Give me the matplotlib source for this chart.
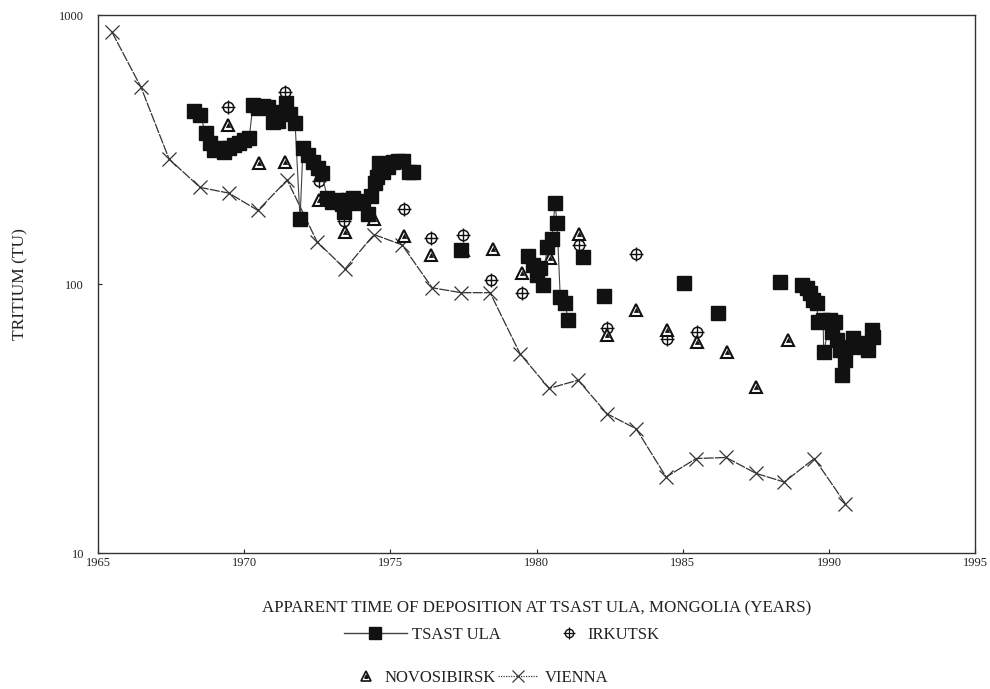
import numpy as np
import matplotlib
matplotlib.use("Agg")
import matplotlib.pyplot as plt
from matplotlib.lines import Line2D

plt.rcParams['font.family'] = ['Liberation Serif', 'DejaVu Serif']

# Tsast Ula record (NaN breaks the connecting line between sample groups)
tsast_year = [1968.28, 1968.49, 1968.69, 1968.83, 1968.97, 1969.14, 1969.31, 1969.48, 1969.65,
              1969.82, 1969.99, 1970.17, 1970.30, 1970.47, 1970.64, 1970.82, 1970.99, 1971.16,
              1971.33, 1971.43, 1971.57, 1971.74, 1971.91, 1972.01, 1972.18, 1972.36, 1972.53,
              1972.66, 1972.84, 1973.01, 1973.18, 1973.35, 1973.42, 1973.55, 1973.72, 1973.89,
              1974.07, 1974.24, 1974.34, 1974.48, 1974.55, 1974.60, 1974.75, 1974.92, 1975.09,
              1975.26, 1975.43, 1975.64, 1975.78, np.nan,
              1977.40, np.nan,
              1979.71, 1979.88, 1980.02, 1980.12, 1980.22, 1980.36, 1980.53, 1980.63, 1980.70,
              1980.81, 1980.98, 1981.08, np.nan,
              1981.59, np.nan, 1982.31, np.nan, 1985.05, np.nan, 1986.21, np.nan, 1988.33, np.nan,
              1989.08, 1989.26, 1989.36, 1989.46, 1989.58, 1989.63, 1989.80, 1989.82, 1990.04,
              1990.11, 1990.21, 1990.28, 1990.38, 1990.45, 1990.56, 1990.66, 1990.83, 1991.00,
              1991.17, 1991.34, 1991.48, 1991.51]
tsast_tu = [440, 425, 364, 334, 315, 320, 310, 320, 329,
            334, 343, 350, 463, 451, 458, 455, 400, 404,
            436, 471, 428, 397, 174.5, 320, 302, 284, 270,
            259, 209, 202, 205, 198, 185, 205, 210, 200,
            204, 182, 212, 237, 250, 282, 261, 272, 284,
            287, 287, 261, 261, np.nan,
            134, np.nan,
            127, 118, 108, 115, 99, 138, 147, 200, 169,
            89.5, 85, 73.5, np.nan,
            126, np.nan, 90.2, np.nan, 101, np.nan, 78, np.nan, 102, np.nan,
            99, 96.7, 92.6, 87.2, 85, 72.2, 73.5, 55.9, 73.5,
            66.4, 72.2, 61.9, 56.8, 45.9, 52.2, 58.3, 63, 60.4,
            58.3, 56.8, 67.5, 63.4]

irkutsk_year = [1969.45, 1971.40, 1972.55, 1973.40, 1974.60, 1975.45, 1976.40, 1977.50,
                1978.45, 1979.50, 1981.45, 1982.40, 1983.40, 1984.45, 1985.50]
irkutsk_tu = [455, 517, 242, 172, 252, 191, 148, 152, 103.5, 92.6, 140, 69, 129, 62.5, 66.4]

novo_year = [1969.45, 1970.50, 1971.40, 1972.55, 1973.45, 1974.45, 1975.45, 1976.40, 1977.50,
             1978.50, 1979.50, 1980.45, 1981.45, 1982.40, 1983.40, 1984.45, 1985.50, 1986.50,
             1987.50, 1988.60]
novo_tu = [390, 282, 284, 205, 156, 175, 151, 128, 134, 135, 110, 125, 154, 64.6, 80, 67.5,
           60.8, 55.9, 41.4, 61.9]

vienna_year = [1965.48, 1966.47, 1967.43, 1968.49, 1969.48, 1970.47, 1971.47, 1972.49, 1973.45,
               1974.44, 1975.40, 1976.43, 1977.42, 1978.41, 1979.44, 1980.43, 1981.42, 1982.41,
               1983.41, 1984.43, 1985.46, 1986.48, 1987.51, 1988.47, 1989.50, 1990.56]
vienna_tu = [864, 540, 292, 229, 218, 188, 244, 144, 114, 153, 140, 97, 93, 93, 55, 41, 44,
             33, 29, 19.2, 22.5, 22.7, 19.8, 18.4, 22.5, 15.3]

x_ticks = [1965, 1970, 1975, 1980, 1985, 1990, 1995]
y_ticks = [10, 100, 1000]

ink = '#111111'
fig = plt.figure(figsize=(9.9, 6.89), dpi=100)
ax = fig.add_axes([0.099, 0.197, 0.886, 0.781])

# Vienna
ax.plot(vienna_year, vienna_tu, color='#333333', lw=0.9, ls=(0, (8, 1)),
        marker='x', ms=10, mew=0.9, mec='#333333', zorder=2)

# Tsast Ula
ax.plot(tsast_year, tsast_tu, color='#444444', lw=0.8, marker='s', ms=9.5,
        mfc=ink, mec=ink, zorder=4)

# Irkutsk: circle with cross
ax.plot(irkutsk_year, irkutsk_tu, ls='none', marker='o', ms=7.5, mfc='white',
        mec=ink, mew=1.1, zorder=3)
ax.plot(irkutsk_year, irkutsk_tu, ls='none', marker='+', ms=10.5, mec=ink,
        mew=1.0, zorder=3)

# Novosibirsk: open triangle with a dot
ax.plot(novo_year, novo_tu, ls='none', marker='^', ms=9, mfc='white',
        mec=ink, mew=1.5, zorder=3)
ax.plot(novo_year, novo_tu, ls='none', marker='^', ms=3, mfc=ink,
        mec=ink, mew=0.5, zorder=3)

ax.set_yscale('log')
ax.set_xlim(1965, 1995)
ax.set_ylim(10, 1000)
ax.set_xticks(x_ticks)
ax.set_xticklabels([str(t) for t in x_ticks])
ax.set_yticks(y_ticks)
ax.set_yticklabels([str(t) for t in y_ticks])
ax.yaxis.set_minor_locator(matplotlib.ticker.NullLocator())
ax.tick_params(direction='in', length=3, width=0.8, labelsize=9,
               colors='#222222')
ax.tick_params(axis='y', pad=10)
ax.tick_params(axis='x', pad=3)
for s in ax.spines.values():
    s.set_color('#333333')
    s.set_linewidth(1.0)

ax.set_xlabel('APPARENT TIME OF DEPOSITION AT TSAST ULA, MONGOLIA (YEARS)',
              fontsize=12.2, color='#222222', labelpad=22)
ax.set_ylabel('TRITIUM (TU)', fontsize=12.5, color='#222222', labelpad=22)

# legend entries placed one by one
h_tsast = Line2D([], [], color='#444444', lw=1.0, marker='s', ms=8, mfc=ink, mec=ink)
h_irk = (Line2D([], [], ls='none', marker='o', ms=6, mfc='white', mec=ink, mew=1.0),
         Line2D([], [], ls='none', marker='+', ms=8.5, mec=ink, mew=0.9))
h_novo = (Line2D([], [], ls='none', marker='^', ms=7, mfc='white', mec=ink, mew=1.2),
          Line2D([], [], ls='none', marker='^', ms=2.5, mfc=ink, mec=ink))
h_vienna = Line2D([], [], color='#3a3a3a', lw=0.9, ls=(0, (1, 1)), marker='x',
                  ms=8, mew=0.9)

entries = [(h_tsast, 'TSAST ULA', 0.347, 0.067, 3.8, 0.3),
           (h_irk, 'IRKUTSK', 0.565, 0.067, 1.2, 0.5),
           (h_novo, 'NOVOSIBIRSK', 0.360, 0.004, 1.2, 0.5),
           (h_vienna, 'VIENNA', 0.503, 0.004, 2.4, 0.4)]
for h, lab, lx, ly, hl, tp in entries:
    fig.legend([h], [lab], loc='lower left', bbox_to_anchor=(lx, ly),
               frameon=False, fontsize=12, handlelength=hl, handletextpad=tp,
               borderaxespad=0, borderpad=0, labelcolor='#222222')

fig.savefig('out.png', dpi=100, facecolor='white')
